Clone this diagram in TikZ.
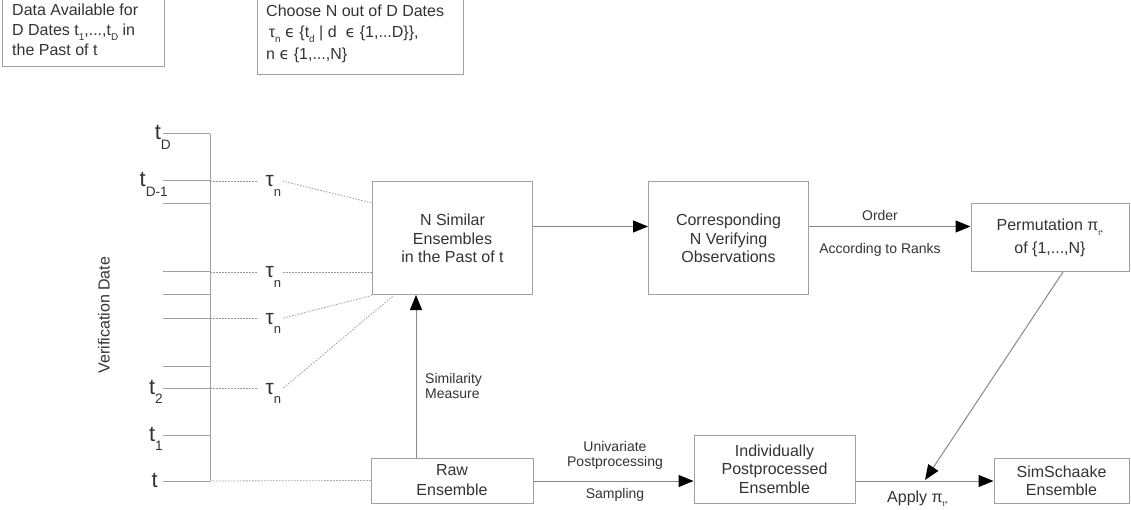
\documentclass[tikz,border=0pt]{standalone}
\usepackage{fontspec}
\setmainfont{Liberation Sans}
\newfontfamily\symfont{DejaVu Sans}
\usetikzlibrary{arrows.meta,calc}

\definecolor{ink}{HTML}{333333}
\definecolor{frame}{HTML}{A0A0A0}
\definecolor{wire}{HTML}{888888}
\definecolor{dotline}{HTML}{9A9A9A}

% lowered small index, as the drawing sets its subscripts
\newcommand\lsub[2][0.45em]{\raisebox{-#1}{\scalebox{0.62}{#2}}}
\newcommand\elem{{\symfont\char"03F5}}

\tikzset{
  box/.style={draw=frame, line width=1pt, text=ink, align=center, inner sep=0pt,
    font=\fontsize{16}{18.3}\selectfont},
  note/.style={draw=frame, line width=1pt, inner sep=0pt},
  notetext/.style={text=ink, align=left, inner sep=0pt, anchor=north west,
    font=\fontsize{16}{20}\selectfont},
  flow/.style={draw=wire, line width=1pt,
    -{Triangle[length=15pt,width=12pt,color=black]}},
  axis/.style={draw=frame, line width=1pt},
  dots/.style={draw=dotline, line width=0.8pt, dash pattern=on 1.5pt off 1.5pt},
  edgelbl/.style={text=ink, inner sep=0pt, font=\fontsize{14}{16}\selectfont},
  tlbl/.style={text=ink, inner sep=0pt, anchor=base east, font=\fontsize{22}{22}\selectfont},
  taulbl/.style={text=ink, inner sep=0pt, anchor=base west, font=\fontsize{21}{21}\selectfont},
}

\begin{document}
\begin{tikzpicture}[x=1pt,y=-1pt]
\useasboundingbox (0,0) rectangle (1131,510);

% notes at the top
\node[note, anchor=north west, minimum width=162pt, minimum height=71pt] (avail) at (2,-5) {};
\node[notetext] (availtext) at (12,4) {Data Available for\\D Dates t\lsub[0.3em]{1},...,t\lsub[0.3em]{D} in\\the Past of t};
\node[note, anchor=north west, minimum width=206pt, minimum height=79pt] (choose) at (257,-5) {};
\node[notetext, font=\fontsize{16}{21.5}\selectfont] (choosetext) at (266,4.5) {Choose N out of D Dates\\
  \,τ\lsub[0.3em]{n} \elem\ \{t\lsub[0.3em]{d} | d\ \ \elem\ \{1,...D\}\},\\
  n \elem\ \{1,...,N\}};

% time axis with its ticks
\coordinate (axtop) at (210,134);
\coordinate (axbot) at (210,481);
\draw[axis] (axtop) -- (axbot);
\foreach \y in {134,181,204,272,295,318,366,388,435,481}
  \draw[axis] (163,\y) -- (210,\y);

% date labels
\node[tlbl] (tD)  at (171,140) {t\lsub{D}};
\node[tlbl] (tD1) at (168,187) {t\lsub{D-1}};
\node[tlbl] (t2)  at (163,394) {t\lsub{2}};
\node[tlbl] (t1)  at (163,441) {t\lsub{1}};
\node[tlbl] (t0)  at (158,487) {t};

\node[text=ink, rotate=90, font=\fontsize{16}{16}\selectfont] (vdate) at (104,315) {Verification Date};

% chosen dates
\node[taulbl] (tau1) at (265.5,187) {τ\lsub{n}};
\node[taulbl] (tau2) at (265.5,278) {τ\lsub{n}};
\node[taulbl] (tau3) at (265.5,324) {τ\lsub{n}};
\node[taulbl] (tau4) at (265.5,394) {τ\lsub{n}};

% process boxes
\node[box, minimum width=160pt, minimum height=113pt] (sim)  at (452.5,238.5) {N Similar\\Ensembles\\in the Past of t};
\node[box, minimum width=160pt, minimum height=113pt] (corr) at (728.5,238.5) {Corresponding\\N Verifying\\Observations};
\node[box, minimum width=158pt, minimum height=68pt, font=\fontsize{16}{23}\selectfont] (perm) at (1050,238) {Permutation π\lsub[0.3em]{\scalebox{0.75}{t*}}\\of \{1,...,N\}};
\node[box, minimum width=162pt, minimum height=45pt, font=\fontsize{16}{20}\selectfont] (raw) at (452,480.5) {Raw\\Ensemble};
\node[box, minimum width=161pt, minimum height=68pt] (indiv) at (774.5,469) {Individually\\Postprocessed\\Ensemble};
\node[box, minimum width=135pt, minimum height=45pt] (simsch) at (1061.5,480.5) {SimSchaake\\Ensemble};

% dotted links from the axis to the chosen dates
\foreach \y/\k in {181/1,272/2,318/3,388/4} {
  \coordinate (ax\k) at (210,\y);
  \coordinate (ae\k) at (257,\y);
  \draw[dots] (ax\k) -- (ae\k);
}
\draw[dots] (axbot) -- (raw.west);

% dotted links from the chosen dates to the similar ensembles
\coordinate (s1) at (372,203);
\coordinate (s4) at (393,296);
\draw[dots] ($(tau1.base east)+(1,-6)$) -- (s1);
\draw[dots] ($(tau2.base east)+(2,-6)$) -- (sim.west |- ax2);
\draw[dots] ($(tau3.base east)+(2,-6)$) -- (sim.south west);
\draw[dots] ($(tau4.base east)+(2,-6)$) -- (s4);

% flow
\coordinate (simout) at ($(sim.north east)+(0,45)$);
\coordinate (corrin) at ($(corr.north west)+(0,45)$);
\coordinate (corrout) at ($(corr.north east)+(0,45)$);
\coordinate (permin) at ($(perm.north west)+(0,23)$);
\draw[flow] (simout) -- (corrin);
\draw[flow] (corrout) -- (permin);
\node[edgelbl] (order) at (880,215) {Order};
\node[edgelbl] (ranks) at (880,250) {According to Ranks};

\coordinate (rawtop) at (416,458);
\coordinate (simbot) at (416,295);
\draw[flow] (rawtop) -- (simbot);
\node[edgelbl, anchor=west, align=left, font=\fontsize{14}{15}\selectfont] (simmeas) at (425,385.5) {Similarity\\Measure};

\coordinate (rawout) at (raw.east |- axbot);
\coordinate (indivin) at (indiv.west |- axbot);
\draw[flow] (rawout) -- (indivin);
\node[edgelbl, align=center, font=\fontsize{14}{15}\selectfont] (univ) at (615,455.5) {Univariate\\Postprocessing};
\node[edgelbl] (sampling) at (615,495) {Sampling};

\coordinate (indivout) at (indiv.east |- axbot);
\coordinate (simschin) at (simsch.west |- axbot);
\draw[flow] (indivout) -- (simschin);
\node[edgelbl, anchor=base west, font=\fontsize{16}{16}\selectfont] (apply) at (887,502) {Apply π\lsub[0.3em]{\scalebox{0.75}{t*}}};

\coordinate (permfoot) at (1063,272);
\coordinate (applyat) at (925,480);
\draw[flow] (permfoot) -- (applyat);
\end{tikzpicture}
\end{document}
